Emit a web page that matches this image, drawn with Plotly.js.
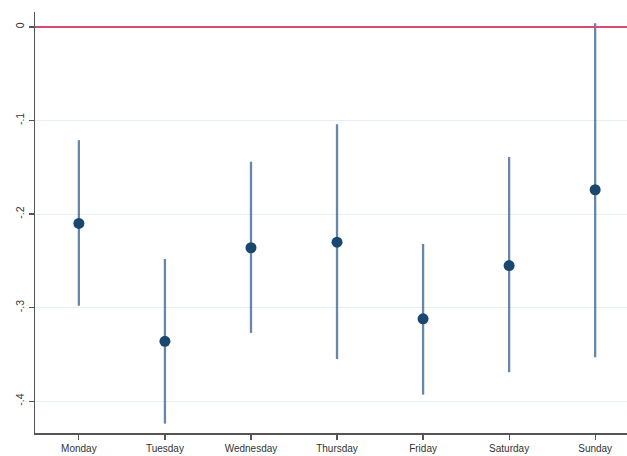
<!DOCTYPE html>
<html>
<head>
<meta charset="utf-8">
<script src="https://cdn.plot.ly/plotly-3.0.1.min.js"></script>
<style>html,body{margin:0;padding:0;background:#fff;}#chart{width:627px;height:456px;}</style>
</head>
<body>
<div id="chart"></div>
<script>
const days = ["Monday","Tuesday","Wednesday","Thursday","Friday","Saturday","Sunday"];
const coef = [-0.210, -0.336, -0.236, -0.230, -0.312, -0.255, -0.174];
const ciUpper = [-0.121, -0.248, -0.144, -0.104, -0.232, -0.139, 0.004];
const ciLower = [-0.298, -0.424, -0.327, -0.355, -0.393, -0.369, -0.353];
const yTicks = [0, -0.1, -0.2, -0.3, -0.4];
const yTickText = ["0", "-.1", "-.2", "-.3", "-.4"];

const idx = days.map((d,i)=>i);
const plus = coef.map((c,i)=>ciUpper[i]-c);
const minus = coef.map((c,i)=>c-ciLower[i]);

const trace = {
  x: idx, y: coef, type: 'scatter', mode: 'markers',
  marker: {color: '#1a476f', size: 11},
  error_y: {type: 'data', symmetric: false, array: plus, arrayminus: minus,
            width: 0, thickness: 2.3, color: 'rgba(60,100,145,0.78)'},
  hoverinfo: 'skip'
};

const layout = {
  width: 627, height: 456,
  margin: {l: 35, r: 0, t: 12, b: 23},
  paper_bgcolor: '#fff', plot_bgcolor: '#fff',
  showlegend: false,
  font: {family: 'Liberation Sans, Arial, sans-serif', color: '#333'},
  xaxis: {
    range: [-0.51, 6.37], tickvals: idx, ticktext: days,
    showgrid: false, zeroline: false,
    showline: true, linecolor: '#555', linewidth: 1.5,
    ticks: 'outside', ticklen: 5, tickcolor: '#555', tickwidth: 1.2,
    tickfont: {size: 10, color: '#333'}
  },
  yaxis: {
    range: [-0.434, 0.016], tickvals: yTicks, ticktext: yTickText,
    tickangle: -90,
    showgrid: true, gridcolor: '#e4f0f1', gridwidth: 1,
    zeroline: false,
    showline: true, linecolor: '#555', linewidth: 1.5,
    ticks: 'outside', ticklen: 5, tickcolor: '#555', tickwidth: 1.2,
    tickfont: {size: 10.5, color: '#333'}
  },
  shapes: [{type: 'line', xref: 'paper', x0: 0, x1: 1, yref: 'y', y0: 0, y1: 0,
            line: {color: '#d64b6f', width: 2}}]
};

Plotly.newPlot('chart', [trace], layout, {displayModeBar: false, staticPlot: true});
</script>
</body>
</html>
